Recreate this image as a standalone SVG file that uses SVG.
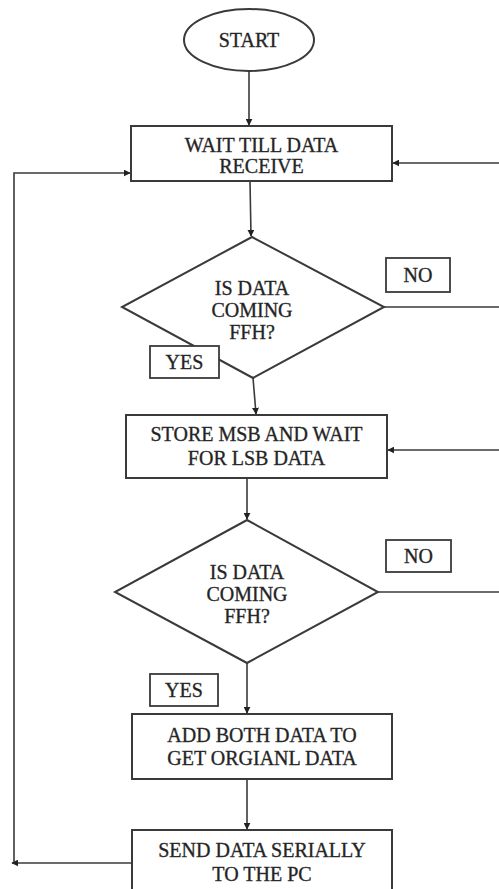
<svg xmlns="http://www.w3.org/2000/svg" width="499" height="889" viewBox="0 0 499 889">
<style>
.shape{fill:#fff;stroke:#3a3a3a;stroke-width:2}
.lbl{fill:#fff;stroke:#3a3a3a;stroke-width:1.8}
.t{font-family:"Liberation Serif","Times New Roman",serif;font-size:20px;fill:#222;stroke:#333;stroke-width:0.35;text-anchor:middle}
.c{fill:none;stroke:#3a3a3a;stroke-width:1.6}
</style>
<defs>
<marker id="ah" viewBox="0 0 10 10" refX="9" refY="5" markerWidth="7" markerHeight="7" markerUnits="userSpaceOnUse" orient="auto">
<path d="M0,0 L10,5 L0,10 z" fill="#222"/>
</marker>
</defs>
<rect width="499" height="889" fill="#fff"/>
<g id="connectors">
<line class="c" x1="249" y1="71" x2="249" y2="125" marker-end="url(#ah)"/>
<line class="c" x1="250" y1="181" x2="251" y2="236" marker-end="url(#ah)"/>
<line class="c" x1="253" y1="378" x2="256" y2="414" marker-end="url(#ah)"/>
<line class="c" x1="247" y1="478" x2="247" y2="519" marker-end="url(#ah)"/>
<line class="c" x1="247" y1="663" x2="247" y2="713" marker-end="url(#ah)"/>
<line class="c" x1="247" y1="779" x2="247" y2="829" marker-end="url(#ah)"/>
<line class="c" x1="499" y1="163" x2="393" y2="163" marker-end="url(#ah)"/>
<line class="c" x1="384" y1="307" x2="499" y2="307"/>
<line class="c" x1="499" y1="450" x2="388" y2="450" marker-end="url(#ah)"/>
<line class="c" x1="378" y1="592" x2="499" y2="592"/>
<polyline class="c" points="14,863 14,173 130,173" marker-end="url(#ah)"/>
<line class="c" x1="132" y1="863" x2="12" y2="863" marker-end="url(#ah)"/>
</g>
<g id="start">
<ellipse class="shape" cx="249" cy="40" rx="65" ry="31"/>
<text class="t" x="249" y="47">START</text>
</g>
<g id="wait">
<rect class="shape" x="131" y="126" width="261" height="55"/>
<text class="t" x="261.5" y="152">WAIT TILL DATA</text>
<text class="t" x="261.5" y="173">RECEIVE</text>
</g>
<g id="decision1">
<polygon class="shape" points="252,237 384,307 253,378 122,307"/>
<text class="t" x="252" y="295">IS DATA</text>
<text class="t" x="252" y="317">COMING</text>
<text class="t" x="252" y="339">FFH?</text>
</g>
<g id="no1">
<rect class="lbl" x="386" y="258" width="64" height="34"/>
<text class="t" x="418" y="282">NO</text>
</g>
<g id="yes1">
<rect class="lbl" x="150" y="346" width="69" height="32"/>
<text class="t" x="184.5" y="369">YES</text>
</g>
<g id="store">
<rect class="shape" x="126" y="415" width="261" height="63"/>
<text class="t" x="256.5" y="441">STORE MSB AND WAIT</text>
<text class="t" x="256.5" y="465">FOR LSB DATA</text>
</g>
<g id="decision2">
<polygon class="shape" points="247,520 378,592 247,663 115,592"/>
<text class="t" x="247" y="579">IS DATA</text>
<text class="t" x="247" y="601">COMING</text>
<text class="t" x="247" y="623">FFH?</text>
</g>
<g id="no2">
<rect class="lbl" x="386" y="540" width="65" height="32"/>
<text class="t" x="418.5" y="563">NO</text>
</g>
<g id="yes2">
<rect class="lbl" x="150" y="674" width="68" height="32"/>
<text class="t" x="184" y="697">YES</text>
</g>
<g id="add">
<rect class="shape" x="132" y="714" width="260" height="65"/>
<text class="t" x="262" y="742">ADD BOTH DATA TO</text>
<text class="t" x="262" y="765">GET ORGIANL DATA</text>
</g>
<g id="send">
<rect class="shape" x="132" y="830" width="260" height="70"/>
<text class="t" x="262" y="857">SEND DATA SERIALLY</text>
<text class="t" x="262" y="881">TO THE PC</text>
</g>
</svg>
